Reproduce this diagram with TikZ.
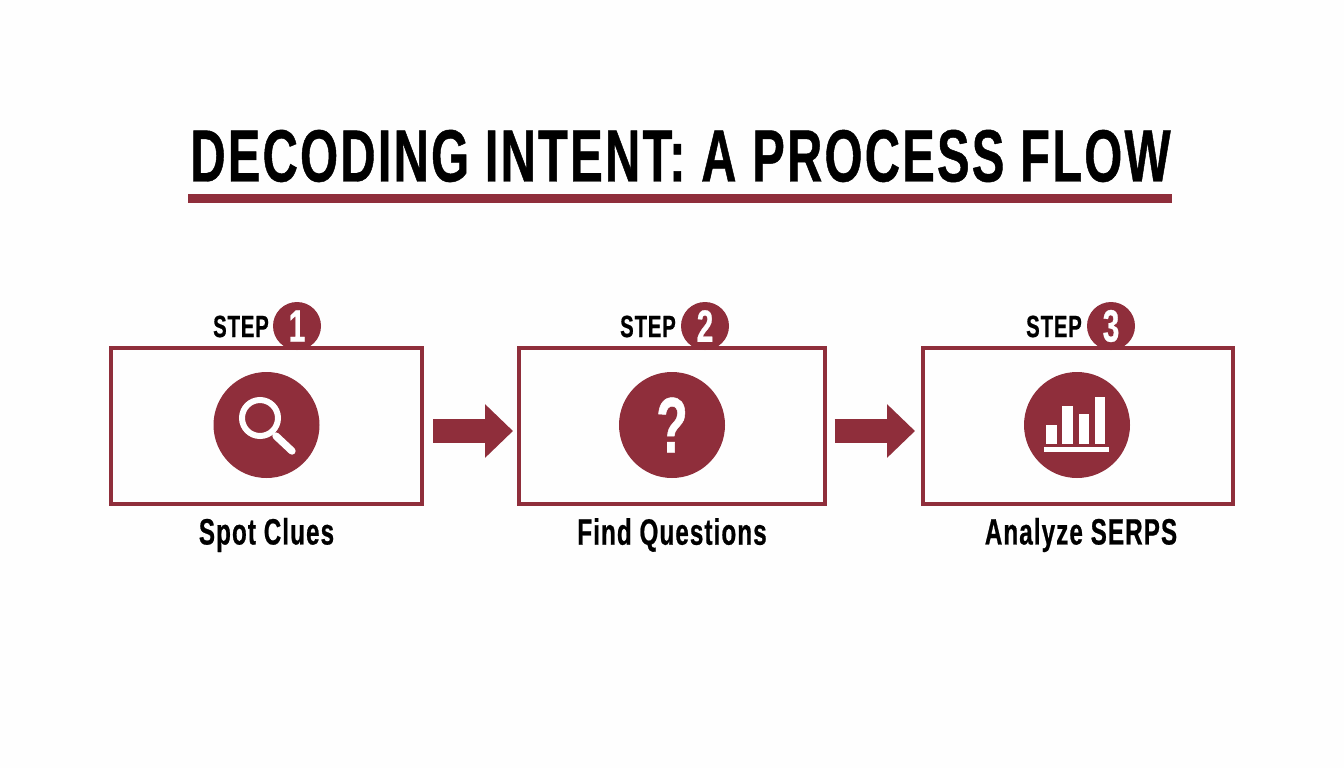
\documentclass[tikz,border=0pt]{standalone}
\usepackage{fontspec}
\usepackage{tikz}
\usetikzlibrary{arrows.meta}
\newfontfamily\condfont[FakeStretch=0.66,LetterSpace=3,FakeBold=0.6]{Liberation Sans}
\definecolor{maroon}{HTML}{8F2E3B}
\tikzstyle{stepframe} = [rectangle, draw=maroon, line width=3pt, minimum height=117pt]
\tikzstyle{disc} = [circle, fill=maroon, minimum size=79.5pt, inner sep=0pt]
\tikzstyle{badge} = [circle, fill=maroon, text=white, minimum size=36pt, inner sep=0pt, font=\condfont\bfseries\fontsize{34}{34}\selectfont]
\tikzstyle{steptext} = [font=\condfont\bfseries\fontsize{23}{23}\selectfont]
\tikzstyle{caption} = [font=\condfont\bfseries\fontsize{27.5}{27.5}\selectfont]
\tikzstyle{arrow} = [line width=18pt,maroon,-{Triangle[length=21pt,width=39pt]}]
\tikzstyle{glyph} = [draw=white, line cap=round]
\begin{document}
\begin{tikzpicture}[x=.75pt,y=-.75pt]
\useasboundingbox [fill=white!99.5!black] (0,0) rectangle (1344,768);

\node (title) at (680.5,156) [font=\condfont\bfseries\fontsize{55.5}{55.5}\selectfont] {DECODING INTENT: A PROCESS FLOW};
\node (rule) at (680,198.5) [rectangle, fill=maroon, minimum width=738pt, minimum height=6.5pt, inner sep=0pt] {};

% badges go first, the frames run across them
\node (badgea) at (297,326) [badge] {1};
\node (badgeb) at (705,326) [badge] {2};
\node (badgec) at (1111,326) [badge] {3};
\node (stepa) at (241,326.5) [steptext] {STEP};
\node (stepb) at (648,326.5) [steptext] {STEP};
\node (stepc) at (1054,326.5) [steptext] {STEP};

\node (spot) at (266.5,426) [stepframe, minimum width=233pt] {};
\node (find) at (672,426) [stepframe, minimum width=229.5pt] {};
\node (serps) at (1078,426) [stepframe, minimum width=232.5pt] {};

\node (spoticon) at (266.5,425) [disc] {};
\node (findicon) at (672,425) [disc, text=white, font=\condfont\bfseries\fontsize{59}{59}\selectfont] {?};
\node (serpsicon) at (1077,425) [disc] {};

% magnifier
\draw [glyph, line width=4.5pt] (260,418) circle (18);
\draw [glyph, line width=5.5pt] (276,436) -- (292,451);

% bars
\fill [white] (1046,425) rectangle (1057,444);
\fill [white] (1062,406) rectangle (1073,444);
\fill [white] (1079,414) rectangle (1089,444);
\fill [white] (1095,397) rectangle (1105,444);
\fill [white] (1044,447) rectangle (1109,452);

\node (spotlabel) at (266.5,535) [caption] {Spot Clues};
\node (findlabel) at (672,535) [caption] {Find Questions};
\node (serpslabel) at (1081,535) [caption] {Analyze SERPS};

\draw [arrow, shorten >=3pt] ([yshift=-3.75pt]spot.east) ++(9.5,0) -- ([yshift=-3.75pt]find.west);
\draw [arrow, shorten >=4.5pt] ([yshift=-3.75pt]find.east) ++(7.5,0) -- ([yshift=-3.75pt]serps.west);
\end{tikzpicture}
\end{document}
